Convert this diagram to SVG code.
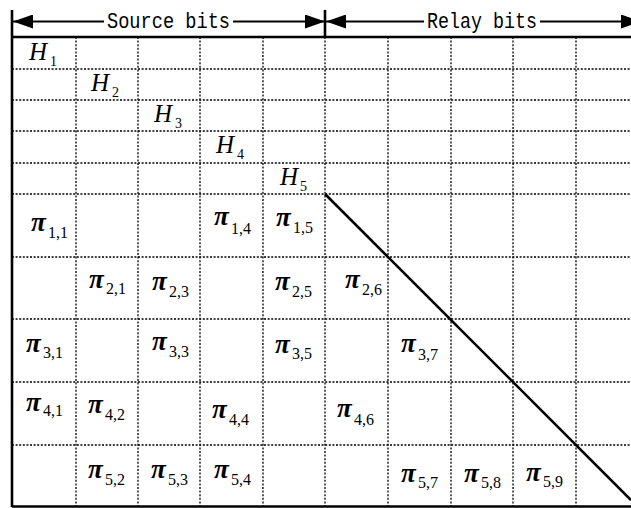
<svg xmlns="http://www.w3.org/2000/svg" width="631" height="508" viewBox="0 0 631 508">
<style>
.bold{stroke:#000;stroke-width:2.6;fill:none}
.dot{stroke:#000;stroke-width:1.3;stroke-dasharray:2 1.6;fill:none}
.hdr{font-family:"Liberation Mono",monospace;font-size:22px;fill:#000}
.H{font-family:"Liberation Serif","Times New Roman",serif;font-style:italic;font-size:25px;fill:#000}
.p{font-family:"Liberation Serif","Times New Roman",serif;font-style:italic;font-weight:bold;font-size:27px;fill:#000}
.s{font-family:"Liberation Serif","Times New Roman",serif;font-style:normal;font-weight:normal;font-size:16px}
.hs{font-family:"Liberation Serif","Times New Roman",serif;font-style:normal;font-size:14px}
</style>
<defs>
<marker id="ah" viewBox="0 0 20 14" refX="20" refY="7" markerWidth="20" markerHeight="14" markerUnits="userSpaceOnUse" orient="auto-start-reverse">
<path d="M0,0 L20,7 L0,14 Z" fill="#000"/>
</marker>
</defs>
<rect width="631" height="508" fill="#fff"/>
<g id="grid">
<path class="dot" d="M76,37V507M138,37V507M200,37V507M263,37V507M325,37V507M388,37V507M451,37V507M513,37V507M576,37V507"/>
<path class="dot" d="M12,69H631M12,100H631M12,131H631M12,163H631M12,194H631M12,257H631M12,319H631M12,382H631M12,445H631"/>
</g>
<g id="frame">
<path class="bold" d="M12,10V507M325,10V37M12,37H631M12,506.5H631"/>
</g>
<g id="connectors">
<line x1="104" y1="21.5" x2="13" y2="21.5" stroke="#000" stroke-width="2" marker-end="url(#ah)"/>
<line x1="233" y1="21.5" x2="325" y2="21.5" stroke="#000" stroke-width="2" marker-end="url(#ah)"/>
<line x1="424" y1="21.5" x2="326" y2="21.5" stroke="#000" stroke-width="2" marker-end="url(#ah)"/>
<line x1="540" y1="21.5" x2="641" y2="21.5" stroke="#000" stroke-width="2" marker-end="url(#ah)"/>
<line x1="325" y1="194" x2="631" y2="500" stroke="#000" stroke-width="2.6"/>
</g>
<g id="header">
<text class="hdr" x="107" y="28" textLength="123" lengthAdjust="spacingAndGlyphs">Source bits</text>
<text class="hdr" x="427" y="28" textLength="110" lengthAdjust="spacingAndGlyphs">Relay bits</text>
</g>
<g id="H-labels">
<text id="H1" class="H" x="29" y="60">H<tspan class="hs" x="50" y="66">1</tspan></text>
<text id="H2" class="H" x="91" y="91">H<tspan class="hs" x="112" y="97">2</tspan></text>
<text id="H3" class="H" x="154" y="122">H<tspan class="hs" x="175" y="128">3</tspan></text>
<text id="H4" class="H" x="216" y="153">H<tspan class="hs" x="237" y="159">4</tspan></text>
<text id="H5" class="H" x="280" y="185">H<tspan class="hs" x="300" y="191">5</tspan></text>
</g>
<g id="pi-labels">
<text class="p" x="31" y="231">π<tspan class="s" x="48" y="238">1,1</tspan></text>
<text class="p" x="214" y="225">π<tspan class="s" x="231" y="234">1,4</tspan></text>
<text class="p" x="276" y="226">π<tspan class="s" x="293" y="233">1,5</tspan></text>
<text class="p" x="89" y="288">π<tspan class="s" x="106" y="294">2,1</tspan></text>
<text class="p" x="152" y="290">π<tspan class="s" x="169" y="297">2,3</tspan></text>
<text class="p" x="275" y="290">π<tspan class="s" x="292" y="297">2,5</tspan></text>
<text class="p" x="345" y="288">π<tspan class="s" x="362" y="295">2,6</tspan></text>
<text class="p" x="26" y="352">π<tspan class="s" x="43" y="358">3,1</tspan></text>
<text class="p" x="152" y="350">π<tspan class="s" x="169" y="357">3,3</tspan></text>
<text class="p" x="275" y="353">π<tspan class="s" x="292" y="359">3,5</tspan></text>
<text class="p" x="401" y="352">π<tspan class="s" x="418" y="360">3,7</tspan></text>
<text class="p" x="26" y="411">π<tspan class="s" x="43" y="416">4,1</tspan></text>
<text class="p" x="88" y="413">π<tspan class="s" x="105" y="420">4,2</tspan></text>
<text class="p" x="212" y="418">π<tspan class="s" x="229" y="425">4,4</tspan></text>
<text class="p" x="337" y="417">π<tspan class="s" x="354" y="425">4,6</tspan></text>
<text class="p" x="88" y="478">π<tspan class="s" x="105" y="485">5,2</tspan></text>
<text class="p" x="151" y="478">π<tspan class="s" x="168" y="485">5,3</tspan></text>
<text class="p" x="214" y="478">π<tspan class="s" x="231" y="485">5,4</tspan></text>
<text class="p" x="401" y="482">π<tspan class="s" x="418" y="488">5,7</tspan></text>
<text class="p" x="464" y="482">π<tspan class="s" x="481" y="488">5,8</tspan></text>
<text class="p" x="526" y="481">π<tspan class="s" x="543" y="487">5,9</tspan></text>
</g>
</svg>
